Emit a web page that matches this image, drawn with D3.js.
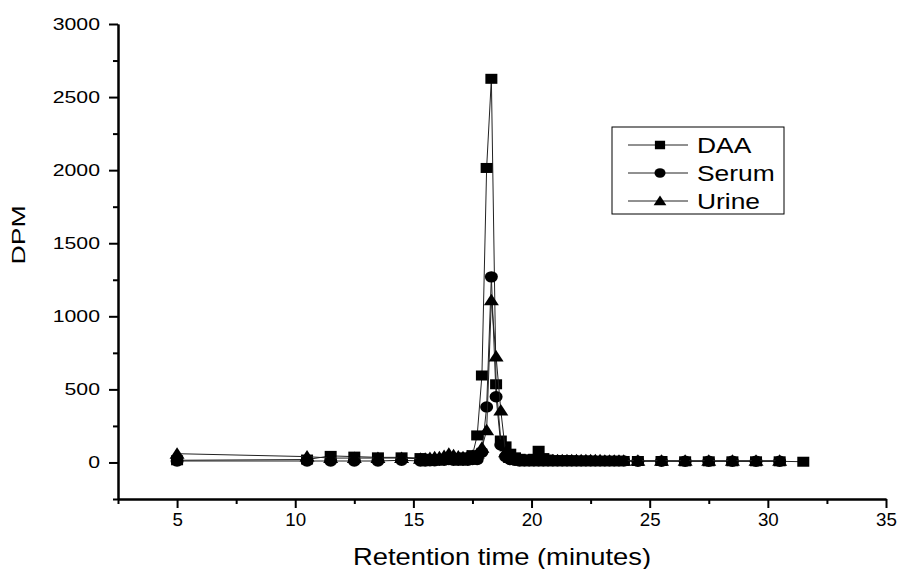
<!DOCTYPE html>
<html>
<head>
<meta charset="utf-8">
<script src="https://cdn.jsdelivr.net/npm/d3@7"></script>
<style>
  body { margin: 0; background: #fff; }
  svg { display: block; font-family: "Liberation Sans", Arial, sans-serif; }
</style>
</head>
<body>
<div id="chart"></div>
<script>
// retention times (minutes) of the collected fractions
const times = [5, 10.5, 11.5, 12.5, 13.5, 14.5,
  15.3, 15.5, 15.7, 15.9, 16.1, 16.3, 16.5, 16.7, 16.9, 17.1, 17.3, 17.5,
  17.7, 17.9, 18.1, 18.3, 18.5, 18.7, 18.9, 19.1, 19.3, 19.5, 19.7, 19.9,
  20.1, 20.3, 20.5, 20.7, 20.9, 21.1, 21.3, 21.5, 21.7, 21.9, 22.1, 22.3,
  22.5, 22.7, 22.9, 23.1, 23.3, 23.5, 23.7, 23.9,
  24.5, 25.5, 26.5, 27.5, 28.5, 29.5, 30.5, 31.5];

const daa = [15, 20, 45, 40, 35, 35,
  30, 25, 20, 20, 20, 25, 30, 25, 30, 35, 30, 50,
  185, 595, 2015, 2625, 535, 150, 110, 60, 35, 25, 20, 20,
  25, 80, 30, 20, 15, 15, 15, 15, 15, 12, 12, 12,
  12, 10, 10, 10, 10, 10, 10, 10,
  10, 10, 8, 8, 8, 8, 8, 5];

const serum = [10, 10, 10, 10, 10, 15,
  10, 10, 12, 12, 15, 15, 20, 15, 15, 15, 15, 20,
  20, 70, 380, 1270, 450, 120, 40, 20, 15, 10, 10, 10,
  10, 10, 10, 10, 10, 10, 10, 10, 10, 10, 10, 10,
  10, 10, 10, 10, 10, 10, 10, 10,
  8, 8, 8, 8, 8, 8, 8, null];

const urine = [60, 40, 30, 30, 30, 30,
  25, 25, 30, 35, 35, 45, 60, 50, 40, 35, 40, 45,
  60, 100, 220, 1110, 725, 355, 70, 30, 20, 15, 15, 15,
  15, 15, 15, 15, 15, 15, 15, 15, 15, 15, 15, 15,
  15, 15, 15, 12, 12, 12, 12, 12,
  12, 12, 12, 12, 12, 12, 12, null];

const seriesNames = ["DAA", "Serum", "Urine"];
const xTicks = [5, 10, 15, 20, 25, 30, 35];
const yTicks = [0, 500, 1000, 1500, 2000, 2500, 3000];

const width = 898, height = 569;

const svg = d3.select("#chart").append("svg")
  .attr("width", width)
  .attr("height", height);

const x = d3.scaleLinear().domain([2.5, 35]).range([118, 886]);
const y = d3.scaleLinear().domain([-250, 3000]).range([499, 24]);

// marker shapes (a bit wider than tall, like the original)
function marker(g, kind, s) {
  if (kind === "DAA") {
    g.append("rect").attr("x", -6 * s).attr("y", -5 * s)
      .attr("width", 12 * s).attr("height", 10 * s);
  } else if (kind === "Serum") {
    g.append("ellipse").attr("rx", 6.5 * s).attr("ry", 5.7 * s);
  } else {
    g.append("path").attr("d",
      `M0,${-6.5 * s}L${7.5 * s},${5 * s}L${-7.5 * s},${5 * s}Z`);
  }
}

const dataBySeries = { DAA: daa, Serum: serum, Urine: urine };

const line = d3.line()
  .defined(d => d.v != null)
  .x(d => x(d.t))
  .y(d => y(d.v));

seriesNames.forEach(name => {
  const pts = times.map((t, i) => ({ t: t, v: dataBySeries[name][i] }));
  svg.append("path")
    .datum(pts)
    .attr("fill", "none")
    .attr("stroke", "#222")
    .attr("stroke-width", 1)
    .attr("d", line);

  svg.append("g")
    .selectAll("g")
    .data(pts.filter(d => d.v != null))
    .join("g")
    .attr("transform", d => `translate(${x(d.t)},${y(d.v)})`)
    .attr("fill", "#000")
    .each(function() { marker(d3.select(this), name, 1); });
});

// axes
function styleAxis(g) {
  g.select(".domain").attr("stroke", "#000").attr("stroke-width", 2);
  g.selectAll(".tick line").attr("stroke", "#000").attr("stroke-width", 2);
}

const xMinor = d3.range(2.5, 35, 5);
svg.append("g")
  .attr("transform", `translate(0,${y(-250)})`)
  .call(d3.axisBottom(x).tickValues(xMinor).tickSize(5).tickFormat("").tickSizeOuter(0))
  .call(styleAxis);

svg.append("g")
  .attr("transform", `translate(0,${y(-250)})`)
  .call(d3.axisBottom(x).tickValues(xTicks).tickSize(9).tickSizeOuter(0).tickPadding(6))
  .call(styleAxis)
  .call(g => g.selectAll("text")
    .attr("fill", "#000")
    .style("font-size", "17.5px")
    .attr("transform", "scale(1.07,1)"));

const yMinor = d3.range(-250, 3000, 500);
svg.append("g")
  .attr("transform", `translate(${x(2.5)},0)`)
  .call(d3.axisLeft(y).tickValues(yMinor).tickSize(5).tickFormat("").tickSizeOuter(0))
  .call(styleAxis);

const ySx = 1.33;
svg.append("g")
  .attr("transform", `translate(${x(2.5)},0)`)
  .call(d3.axisLeft(y).tickValues(yTicks).tickSize(9).tickSizeOuter(0).tickFormat(d3.format("d")))
  .call(styleAxis)
  .call(g => g.selectAll("text")
    .attr("fill", "#000")
    .style("font-size", "16px")
    .attr("x", -18 / ySx)
    .attr("transform", `scale(${ySx},1)`));

// axis titles
svg.append("text")
  .attr("transform", `translate(${(x(2.5) + x(35)) / 2},565) scale(1.19,1)`)
  .attr("text-anchor", "middle")
  .style("font-size", "23px")
  .text("Retention time (minutes)");

svg.append("text")
  .attr("transform", "translate(25,235) rotate(-90) scale(1.4,1)")
  .attr("text-anchor", "middle")
  .style("font-size", "19px")
  .text("DPM");

// legend
const legend = svg.append("g");
legend.append("rect")
  .attr("x", 612).attr("y", 127)
  .attr("width", 172).attr("height", 87)
  .attr("fill", "#fff")
  .attr("stroke", "#000")
  .attr("stroke-width", 1);

seriesNames.forEach((name, i) => {
  const cy = 145 + i * 28;
  const row = legend.append("g");
  row.append("line")
    .attr("x1", 628).attr("x2", 688)
    .attr("y1", cy).attr("y2", cy)
    .attr("stroke", "#222").attr("stroke-width", 1);
  const m = row.append("g").attr("transform", `translate(660,${cy})`).attr("fill", "#000");
  marker(m, name, 0.85);
  row.append("text")
    .attr("transform", `translate(697,${cy + 8}) scale(1.2,1)`)
    .style("font-size", "22px")
    .text(name);
});
</script>
</body>
</html>
